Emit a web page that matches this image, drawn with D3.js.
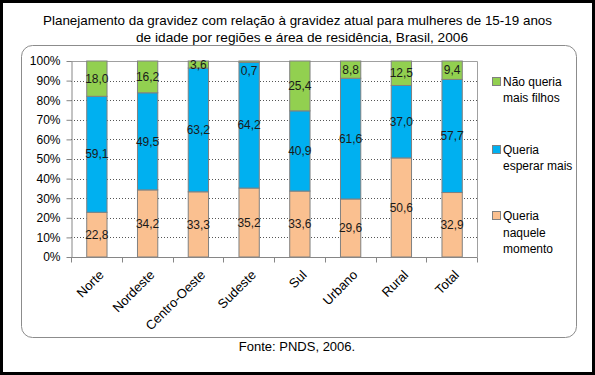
<!DOCTYPE html>
<html>
<head>
<meta charset="utf-8">
<script src="https://cdn.jsdelivr.net/npm/d3@7"></script>
<style>
  body { margin: 0; background: #000; }
  svg { display: block; font-family: "Liberation Sans", Arial, sans-serif; }
</style>
</head>
<body>
<svg class="plot" width="595" height="375"></svg>
<script>
// data
var categories = ["Norte", "Nordeste", "Centro-Oeste", "Sudeste", "Sul", "Urbano", "Rural", "Total"];
var naquele = [22.8, 34.2, 33.3, 35.2, 33.6, 29.6, 50.6, 32.9];
var esperar = [59.1, 49.5, 63.2, 64.2, 40.9, 61.6, 37.0, 57.7];
var naoQueria = [18.0, 16.2, 3.6, 0.7, 25.4, 8.8, 12.5, 9.4];
var seriesKeys = ["naquele", "esperar", "nao"];
var seriesNames = [["Queria", "naquele", "momento"], ["Queria", "esperar mais"], ["Não queria", "mais filhos"]];
var colors = {naquele: "#FAC090", esperar: "#00B0F0", nao: "#92D050"};
var yTicks = [0, .1, .2, .3, .4, .5, .6, .7, .8, .9, 1];

var svg = d3.select(".plot");

// frame
svg.append("rect").attr("x", 3).attr("y", 3).attr("width", 589).attr("height", 369).attr("fill", "#fff");
svg.append("rect").attr("x", 21.5).attr("y", 45.5).attr("width", 555).attr("height", 292)
    .attr("rx", 11).attr("ry", 11).attr("fill", "none").attr("stroke", "#8c8c8c");

svg.append("text").attr("x", 297.5).attr("y", 24.5).attr("text-anchor", "middle")
    .style("font-size", "13px").attr("fill", "#000")
    .attr("textLength", 509).attr("lengthAdjust", "spacingAndGlyphs")
    .text("Planejamento da gravidez com relação à gravidez atual para mulheres de 15-19 anos");
svg.append("text").attr("x", 302).attr("y", 41.5).attr("text-anchor", "middle")
    .style("font-size", "13px").attr("fill", "#000")
    .attr("textLength", 332).attr("lengthAdjust", "spacingAndGlyphs")
    .text("de idade por regiões e área de residência, Brasil, 2006");

var table = categories.map(function(c, i) {
  return {cat: c, naquele: naquele[i], esperar: esperar[i], nao: naoQueria[i]};
});

var x = d3.scaleBand().domain(categories).range([71, 477]).paddingInner(0.6).paddingOuter(0.3),
    xb = d3.scaleBand().domain(categories).range([71, 477]),
    y = d3.scaleLinear().domain([0, 1]).range([257, 61]);

var stack = d3.stack().keys(seriesKeys).offset(d3.stackOffsetExpand);
var layers = stack(table);

// grid
svg.append("g").selectAll("line").data(yTicks.slice(1, -1)).enter().append("line")
    .attr("x1", 71).attr("x2", 477)
    .attr("y1", function(d) { return Math.round(y(d)) + 0.5; })
    .attr("y2", function(d) { return Math.round(y(d)) + 0.5; })
    .attr("stroke", "#555").style("stroke-dasharray", "1,2");

// plot area border top/right
svg.append("path").attr("d", "M71," + (y(1) + 0.5) + "H477.5V257")
    .attr("fill", "none").attr("stroke", "#a0a0a0");

// bars
var gl = svg.append("g").selectAll("g").data(layers).enter().append("g")
    .attr("fill", function(d) { return colors[d.key]; });

gl.selectAll("rect").data(function(d) { return d; }).enter().append("rect")
    .attr("x", function(d) { return x(d.data.cat) + 0.5; })
    .attr("width", x.bandwidth())
    .attr("y", function(d) { return y(d[1]); })
    .attr("height", function(d) { return y(d[0]) - y(d[1]); })
    .attr("stroke", "#808080").attr("stroke-width", 1);

// value labels
gl.selectAll("text").data(function(d) {
    return d.map(function(p) { return {p: p, key: d.key}; });
  }).enter().append("text")
    .attr("x", function(d) { return x(d.p.data.cat) + x.bandwidth() / 2 + 0.5; })
    .attr("y", function(d) {
      var top = y(d.p[1]), bot = y(d.p[0]);
      if (bot - top < 4) return bot + 8;
      return (top + bot) / 2;
    })
    .attr("dy", "0.35em")
    .attr("text-anchor", "middle")
    .attr("fill", "#1a1a1a")
    .style("font-size", "12px")
    .text(function(d) { return d3.format(".1f")(d.p.data[d.key]).replace(".", ","); });

// y axis
var yAxis = svg.append("g").attr("transform", "translate(71.5,0)")
    .call(d3.axisLeft(y).tickValues(yTicks).tickFormat(d3.format(".0%")).tickSize(5).tickSizeOuter(0));
yAxis.select(".domain").attr("stroke", "#868686");
yAxis.selectAll(".tick line").attr("stroke", "#868686");
yAxis.selectAll("text").attr("fill", "#000").style("font-size", "12px")
    .style("font-family", "Liberation Sans, Arial, sans-serif").attr("x", -11);

// x axis
var xg = svg.append("g").attr("transform", "translate(0,257.5)");
xg.append("line").attr("x1", 71).attr("x2", 477.5).attr("stroke", "#868686");
xg.selectAll(".tk").data(categories.concat(["end"])).enter().append("line")
    .attr("x1", function(d, i) { return Math.round(71 + i * xb.bandwidth()) + 0.5; })
    .attr("x2", function(d, i) { return Math.round(71 + i * xb.bandwidth()) + 0.5; })
    .attr("y1", 0).attr("y2", 5).attr("stroke", "#868686");
xg.selectAll(".lbl").data(categories).enter().append("text")
    .attr("transform", function(d) {
      return "translate(" + (xb(d) + xb.bandwidth() / 2 + 5) + ",15)rotate(-45)";
    })
    .attr("text-anchor", "end").attr("dy", "0.35em")
    .style("font-size", "13px").attr("fill", "#000")
    .text(function(d) { return d; });

// legend
var legY = [[216, 233, 249], [150, 166], [82, 98]];
seriesKeys.forEach(function(k, i) {
  svg.append("rect").attr("x", 492.5).attr("y", legY[i][0] - 4.5).attr("width", 8).attr("height", 8)
      .attr("fill", colors[k]).attr("stroke", "#808080");
  seriesNames[i].forEach(function(t, j) {
    svg.append("text").attr("x", 503).attr("y", legY[i][j]).attr("dy", "0.35em")
        .style("font-size", "12px").attr("fill", "#000").text(t);
  });
});

svg.append("text").attr("x", 297).attr("y", 351).attr("text-anchor", "middle")
    .style("font-size", "13px").attr("fill", "#000").text("Fonte: PNDS, 2006.");
</script>
</body>
</html>
